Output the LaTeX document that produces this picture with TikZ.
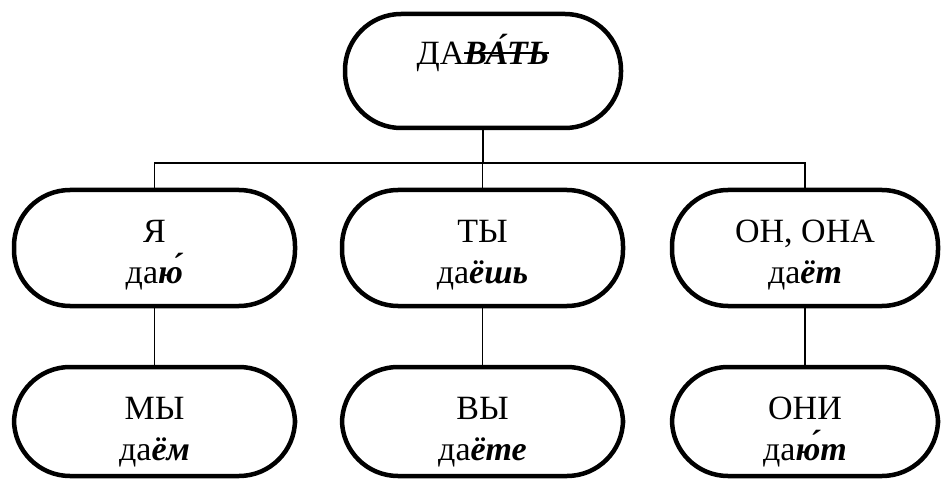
\documentclass[tikz,border=0pt]{standalone}
\usepackage{fontspec}
\setmainfont{Liberation Serif}
\newsavebox{\strikebox}
\newcommand{\strikeout}[1]{\sbox{\strikebox}{#1}\rlap{\vrule height 0.37em depth -0.31em width\wd\strikebox}\usebox{\strikebox}}
\newcommand{\twol}[3]{\rule{0pt}{#3}#1\\#2\rule[-9pt]{0pt}{9pt}}
\tikzset{
  pill/.style={draw, line width=4.5pt, rectangle, rounded corners=56pt,
    minimum width=281pt, minimum height=116pt, inner sep=0pt,
    align=center, font=\fontsize{34}{41}\selectfont},
  link/.style={draw, line width=1.8pt}
}
\newcommand{\bi}[1]{\textbf{\textit{#1}}}
\begin{document}
\begin{tikzpicture}[x=1pt,y=-1pt]
\useasboundingbox (0,0) rectangle (942,481);
\node[pill, minimum width=276pt, minimum height=114pt] (top) at (483,71)
  {\rule{0pt}{32pt}ДА\strikeout{\bi{ВА\char"0301 ТЬ}}\rule[-44pt]{0pt}{44pt}};
\node[pill] (b1) at (154.5,248) {\twol{Я}{да\bi{ю\char"0301}}{39pt}};
\node[pill] (b2) at (482.5,248) {\twol{ТЫ}{да\bi{ёшь}}{39pt}};
\node[pill, minimum width=266pt] (b3) at (805,248) {\twol{ОН, ОНА}{да\bi{ёт}}{39pt}};
\node[pill, minimum height=109pt] (c1) at (154.5,421.5) {\twol{МЫ}{да\bi{ём}}{46pt}};
\node[pill, minimum height=109pt] (c2) at (482.5,421.5) {\twol{ВЫ}{да\bi{ёте}}{46pt}};
\node[pill, minimum width=266pt, minimum height=109pt] (c3) at (805,421.5) {\twol{ОНИ}{да\bi{ю\char"0301 т}}{46pt}};
\coordinate (hub) at (top.south |- 0,163);
\draw[link] (top.south) -- (hub);
\draw[link] (b1.north) -- (b1.north |- hub) -- (b3.north |- hub) -- (b3.north);
\draw[link] (b2.north |- hub) -- (b2.north);
\draw[link] (b1.south) -- (c1.north);
\draw[link] (b2.south) -- (c2.north);
\draw[link] (b3.south) -- (c3.north);
\end{tikzpicture}
\end{document}
